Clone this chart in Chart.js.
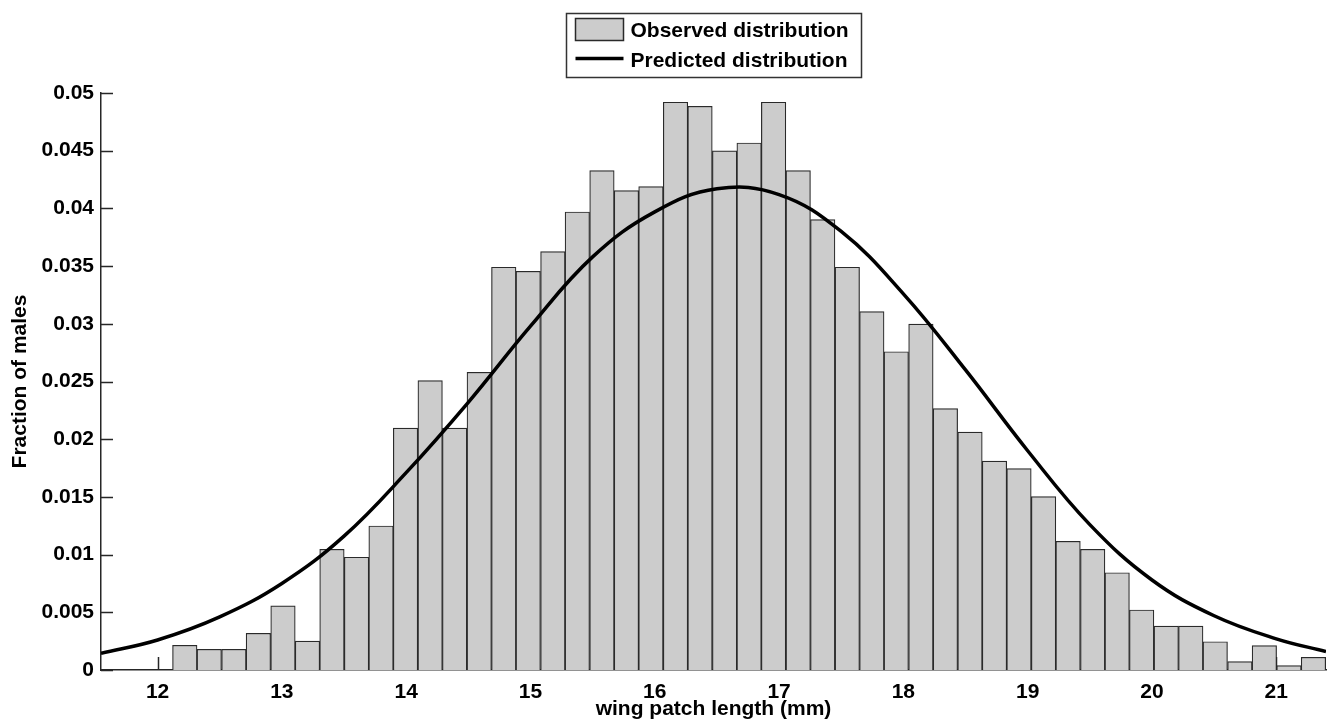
<!DOCTYPE html>
<html>
<head>
<meta charset="utf-8">
<title>Wing patch length distribution</title>
<script src="https://cdn.jsdelivr.net/npm/chart.js@4.4.0/dist/chart.umd.min.js"></script>
<style>
  html, body { margin: 0; padding: 0; background: #fff; }
</style>
</head>
<body>
<canvas id="chart" width="1330" height="724"></canvas>
<script>
/* ============================================================
   Observed vs predicted wing patch length (males)
   ============================================================ */

// histogram bin centres (mm), 47 bins
var binCenters = [
  12.219, 12.416, 12.614, 12.811, 13.009, 13.206, 13.403, 13.601, 13.798, 13.995,
  14.193, 14.390, 14.588, 14.785, 14.982, 15.180, 15.377, 15.575, 15.772, 15.969,
  16.167, 16.364, 16.562, 16.759, 16.956, 17.154, 17.351, 17.549, 17.746, 17.943,
  18.141, 18.338, 18.536, 18.733, 18.930, 19.128, 19.325, 19.523, 19.720, 19.917,
  20.115, 20.312, 20.509, 20.707, 20.904, 21.102, 21.299
];

// fraction of males per bin
var observed = [
  0.00214, 0.00179, 0.00179, 0.00318, 0.00555, 0.00251, 0.01046, 0.00977, 0.01248, 0.02097,
  0.02507, 0.02097, 0.02580, 0.03490, 0.03455, 0.03625, 0.03969, 0.04327, 0.04154, 0.04188,
  0.04920, 0.04885, 0.04498, 0.04567, 0.04920, 0.04327, 0.03903, 0.03490, 0.03105, 0.02758,
  0.02998, 0.02265, 0.02062, 0.01811, 0.01745, 0.01502, 0.01115, 0.01046, 0.00843, 0.00520,
  0.00381, 0.00381, 0.00245, 0.00072, 0.00211, 0.00038, 0.00110
];

// predicted distribution
var curveX = [11.545, 12, 12.5, 13, 13.5, 14, 14.5, 15, 15.5, 16, 16.5,
              17, 17.5, 18, 18.5, 19, 19.5, 20, 20.5, 21, 21.4];
var curveY = [0.00145, 0.0026, 0.0046, 0.0075, 0.0116, 0.0171, 0.0232, 0.0298, 0.0358, 0.0397, 0.0417,
              0.0412, 0.0380, 0.0326, 0.0260, 0.0190, 0.0126, 0.0078, 0.0047, 0.0027, 0.0016];

var X_MIN = 11.545, X_MAX = 21.4;
var Y_MIN = 0, Y_MAX = 0.05;

var FONT = '"Liberation Sans", Arial, Helvetica, sans-serif';
var AXIS_COLOR = '#262626';

// MATLAB style ticks, pointing into the plot (drawn under the bars)
var innerTicks = {
  id: 'innerTicks',
  beforeDatasetsDraw: function(chart) {
    var ctx = chart.ctx, a = chart.chartArea;
    var xs = chart.scales.x, ys = chart.scales.y;
    ctx.save();
    ctx.strokeStyle = AXIS_COLOR;
    ctx.lineWidth = 1.5;
    ctx.beginPath();
    xs.ticks.forEach(function(t) {
      var px = Math.round(xs.getPixelForValue(t.value)) + 0.5;
      ctx.moveTo(px, a.bottom); ctx.lineTo(px, a.bottom - 13);
    });
    ys.ticks.forEach(function(t) {
      var py = Math.round(ys.getPixelForValue(t.value)) + 0.5;
      ctx.moveTo(a.left, py); ctx.lineTo(a.left + 12, py);
    });
    ctx.stroke();
    ctx.restore();
  }
};

// boxed legend, two rows, centred over the plot
var boxLegend = {
  id: 'boxLegend',
  afterDraw: function(chart) {
    var ctx = chart.ctx, a = chart.chartArea;
    var bars = chart.data.datasets[0], line = chart.data.datasets[1];
    ctx.save();
    ctx.font = 'bold 21px ' + FONT;
    var tw = Math.max(ctx.measureText(bars.label).width, ctx.measureText(line.label).width);
    var w = Math.round(65 + tw + 12), h = 64;
    var x0 = Math.round((a.left + a.right) / 2 - w / 2) + 0.5, y0 = 13.5;

    ctx.fillStyle = '#fff';
    ctx.fillRect(x0, y0, w, h);
    ctx.strokeStyle = '#333';
    ctx.lineWidth = 1.5;
    ctx.strokeRect(x0, y0, w, h);

    ctx.fillStyle = bars.backgroundColor;
    ctx.fillRect(x0 + 9, y0 + 5, 48, 22);
    ctx.strokeStyle = bars.borderColor;
    ctx.lineWidth = 1.5;
    ctx.strokeRect(x0 + 9, y0 + 5, 48, 22);

    ctx.strokeStyle = line.borderColor;
    ctx.lineWidth = 3.5;
    ctx.beginPath();
    ctx.moveTo(x0 + 9, y0 + 45); ctx.lineTo(x0 + 57, y0 + 45);
    ctx.stroke();

    ctx.fillStyle = '#000';
    ctx.textBaseline = 'middle';
    ctx.textAlign = 'left';
    ctx.fillText(bars.label, x0 + 64, y0 + 18);
    ctx.fillText(line.label, x0 + 64, y0 + 48);
    ctx.restore();
  }
};

var barPoints = binCenters.map(function(x, i) { return { x: x, y: observed[i] }; });
var curvePoints = curveX.map(function(x, i) { return { x: x, y: curveY[i] }; });

new Chart(document.getElementById('chart').getContext('2d'), {
  type: 'bar',
  data: {
    datasets: [
      {
        label: 'Observed distribution', data: barPoints, order: 2,
        backgroundColor: '#cccccc', borderColor: '#2a2a2a', borderWidth: 1.2,
        barPercentage: 1.0, categoryPercentage: 1.0
      },
      {
        type: 'line', label: 'Predicted distribution', data: curvePoints, order: 1,
        borderColor: '#000000', borderWidth: 3.5, pointRadius: 0, fill: false,
        tension: 0.4
      }
    ]
  },
  options: {
    responsive: false, animation: false, events: [],
    layout: { padding: { top: 93, right: 4, left: 0, bottom: 0 } },
    plugins: { legend: { display: false }, tooltip: { enabled: false } },
    scales: {
      x: {
        type: 'linear', min: X_MIN, max: X_MAX, offset: false,
        grid: { display: false, drawTicks: false },
        border: { display: true, color: AXIS_COLOR, width: 1.5 },
        ticks: { stepSize: 1, includeBounds: false, autoSkip: false, maxRotation: 0,
                 padding: 10, color: '#000', font: { family: FONT, size: 21, weight: 'bold' } },
        title: { display: true, text: 'wing patch length (mm)', color: '#000',
                 font: { family: FONT, size: 21, weight: 'bold' }, padding: { top: 2, bottom: 2 } },
        afterFit: function(s) { s.height = 54; }
      },
      y: {
        min: Y_MIN, max: Y_MAX,
        grid: { display: false, drawTicks: false },
        border: { display: true, color: AXIS_COLOR, width: 1.5 },
        ticks: { stepSize: 0.005, includeBounds: false, padding: 7, color: '#000',
                 font: { family: FONT, size: 21, weight: 'bold' },
                 callback: function(v) { return String(+v.toFixed(3)); } },
        title: { display: true, text: 'Fraction of males', color: '#000',
                 font: { family: FONT, size: 21, weight: 'bold' }, padding: { top: 8, bottom: 8 } },
        afterFit: function(s) { s.width = 101; }
      }
    }
  },
  plugins: [innerTicks, boxLegend]
});
</script>
</body>
</html>
